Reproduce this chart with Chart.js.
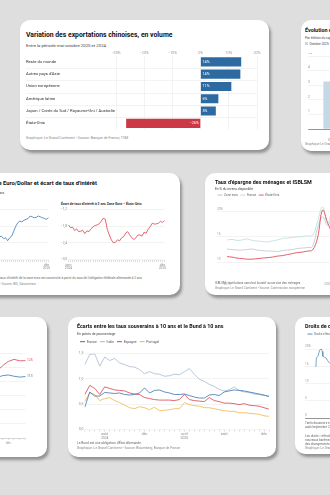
<!DOCTYPE html>
<html lang="fr">
<head>
<meta charset="utf-8">
<script src="https://cdn.jsdelivr.net/npm/chart.js@4.4.1/dist/chart.umd.min.js"></script>
<style>
html,body{margin:0;padding:0;}
body{width:330px;height:495px;overflow:hidden;background:#dedede;position:relative;font-family:Roboto,"Liberation Sans",sans-serif;color:#222;}
.card{position:absolute;background:#fff;border-radius:10px;box-shadow:2px 3px 3px rgba(0,0,0,.35);overflow:hidden;}
.t{position:absolute;font-weight:700;white-space:nowrap;color:#111;}
.s,.f{position:absolute;white-space:nowrap;}
.s{color:#444;}
.f{color:#8a8a8a;}
canvas{position:absolute;display:block;}
</style>
</head>
<body>

<div class="card" style="left:20px;top:20px;width:249px;height:130px">
  <div class="t" style="left:6px;top:11px;font-size:6.8px">Variation des exportations chinoises, en volume</div>
  <div class="s" style="left:6px;top:22.5px;font-size:4.3px">Entre la période mai-octobre 2025 et 2024.</div>
  <canvas id="exports" width="238" height="84" style="left:6px;top:28px"></canvas>
  <div class="f" style="left:6px;top:116px;font-size:3.6px">Graphique: Le Grand Continent • Source: Banque de France, TSM</div>
</div>

<div class="card" style="left:301px;top:20px;width:140px;height:131px">
  <div class="t" style="left:4px;top:7px;font-size:5.4px">Évolution des recettes douanières</div>
  <div class="s" style="left:4px;top:16px;font-size:3.3px">Par édition du rapport, en milliards de dollars</div>
  <div class="s" style="left:4px;top:22px;font-size:3.2px"><span style="display:inline-block;width:3px;height:3px;background:#c4d8e6;margin-right:1.5px"></span>Octobre 2025</div>
  <canvas id="edition" width="140" height="90" style="left:7px;top:33px"></canvas>
  <div class="f" style="left:4px;top:122px;font-size:3.2px">Graphique Le Grand Continent</div>
</div>

<div class="card" style="left:-70px;top:173px;width:250px;height:122px">
  <div class="t" style="left:73px;top:7px;font-size:5.8px"><span style="position:absolute;right:100%">Taux de change&nbsp;</span>Euro/Dollar et écart de taux d'intérêt</div>
  <div class="s" style="right:175px;top:17.5px;font-size:3.5px">Cours de l'euro en dollars.</div>
  <div class="t" style="left:131px;top:29px;font-size:3.4px;font-weight:600;color:#222">Écart de taux d'intérêt à 2 ans Zone Euro – États-Unis</div>
  <canvas id="eurusd" width="112" height="70" style="left:12px;top:32px"></canvas>
  <canvas id="rates" width="112" height="70" style="left:128px;top:32px"></canvas>
  <div class="f" style="right:38px;top:103px;font-size:3.2px;color:#666">Note : l'écart de taux d'intérêt de la zone euro est construite à partir du taux de l'obligation fédérale allemande à 2 ans</div>
  <div class="f" style="right:144px;top:109px;font-size:3.2px">Graphique : Le Grand Continent • Source: BIS, Datastream</div>
</div>

<div class="card" style="left:205px;top:173px;width:200px;height:122px">
  <div class="t" style="left:10px;top:5.5px;font-size:5.4px">Taux d'épargne des ménages et ISBLSM</div>
  <div class="s" style="left:10px;top:13.5px;font-size:3.3px">En % du revenu disponible</div>
  <canvas id="savings" width="190" height="97" style="left:10px;top:18px"></canvas>
  <div class="f" style="left:10px;top:107.5px;font-size:3.1px;color:#666">ISBLSM : institutions sans but lucratif au service des ménages</div>
  <div class="f" style="left:10px;top:113px;font-size:3.1px">Graphique: Le Grand Continent • Source: Commission européenne</div>
</div>

<div class="card" style="left:-200px;top:317px;width:247px;height:140px">
  <canvas id="index" width="240" height="120" style="left:0px;top:15px"></canvas>
</div>

<div class="card" style="left:68px;top:317px;width:208px;height:140px">
  <div class="t" style="left:9px;top:6px;font-size:5.4px">Écarts entre les taux souverains à 10 ans et le Bund à 10 ans</div>
  <div class="s" style="left:9px;top:15px;font-size:3.4px">En points de pourcentage</div>
  <canvas id="spreads" width="196" height="104" style="left:9px;top:20px"></canvas>
  <div class="f" style="left:9px;top:124px;font-size:3.3px;color:#666">Le Bund est une obligation d'État allemande.</div>
  <div class="f" style="left:9px;top:129px;font-size:3.3px">Graphique: Le Grand Continent • Source: Bloomberg, Banque de France</div>
</div>

<div class="card" style="left:295px;top:317px;width:150px;height:137px">
  <div class="t" style="left:10px;top:6px;font-size:5.4px">Droits de douane effectifs</div>
  <canvas id="tariffs" width="130" height="96" style="left:10px;top:13px"></canvas>
  <div class="f" style="left:10px;top:104px;font-size:3.1px;color:#666">Tarifs douaniers effectifs sur les importations,</div>
  <div class="f" style="left:10px;top:108px;font-size:3.1px;color:#666">août/septembre 2025</div>
  <div class="f" style="left:10px;top:117px;font-size:3.1px;color:#666">Les droits « effectifs » tiennent compte des</div>
  <div class="f" style="left:10px;top:121px;font-size:3.1px;color:#666">nouveaux barèmes et des exemptions,</div>
  <div class="f" style="left:10px;top:125px;font-size:3.1px;color:#666">des changements de flux commerciaux</div>
  <div class="f" style="left:10px;top:129px;font-size:3.1px">Graphique: Le Grand Continent</div>
</div>

<script>
// --- exports chinoises (mai-oct 2025 vs 2024)
var exportCats = ['Reste du monde', "Autres pays d'Asie", 'Union européenne', 'Amérique latine', 'Japon / Corée du Sud / Royaume-Uni / Australie', 'États-Unis'];
var exportChange = [14.4, 14.1, 10.9, 6.3, 5.4, -26.4];
var exportTicks = [-30, -20, -10, 0, 10, 20];

// --- recettes par édition
var editionCats = ['2025', '2026', '2027'];
var editionValues = [3.25, 3.9, 4.4];
var editionTicks = [0, 1, 2, 3, 4, 5];

// --- euro/dollar et écart de taux (points bimensuels janv 2024 - déc 2025)
var eurUsd = [1.09, 1.085, 1.08, 1.085, 1.08, 1.075, 1.07, 1.075, 1.08, 1.085, 1.08, 1.075, 1.08, 1.09, 1.085, 1.09, 1.10, 1.11, 1.115, 1.11, 1.09, 1.065, 1.055, 1.035, 1.04, 1.025, 1.03, 1.013, 1.03, 1.04, 1.07, 1.10, 1.12, 1.13, 1.125, 1.135, 1.14, 1.145, 1.16, 1.155, 1.15, 1.152, 1.16, 1.155, 1.15, 1.145, 1.14, 1.15];
var rateGap = [-1.76, -1.86, -1.84, -1.96, -1.90, -2.00, -1.98, -1.96, -2.07, -1.97, -2.00, -1.90, -1.83, -1.78, -1.76, -1.72, -1.63, -1.52, -1.55, -1.92, -2.12, -2.30, -2.40, -2.38, -2.29, -2.33, -2.22, -2.18, -2.05, -2.00, -2.12, -2.22, -2.28, -2.22, -2.12, -2.12, -2.16, -2.02, -2.06, -1.92, -1.82, -1.70, -1.73, -1.72, -1.70, -1.63, -1.67, -1.60];
var rateTicks = [-3.0, -2.4, -1.8, -1.2];
var fxTicks = [0.9, 1.0, 1.1, 1.2];
var fxTickNames = { 0: ['janv', '2024'], 46: ['déc', '2025'] };

// --- épargne des ménages (trimestriel, 2014T3 - 2023T4)
var savingQuarters = ['2014T3', '2014T4'];
[2015, 2016, 2017, 2018, 2019, 2020, 2021, 2022, 2023].forEach(function (y) {
    ['T1', 'T2', 'T3', 'T4'].forEach(function (q) { savingQuarters.push(y + q); });
});
var savingEuro = [null, null, 12.6, 12.5, 12.4, 12.4, 12.5, 12.6, 12.4, 12.3, 12.2, 12.2, 12.1, 12.3, 12.4, 12.5, 12.7, 12.8, 12.9, 13.1, 16.8, 19.0, 17.3, 18.8, 18.4, 17.6, 16.2, 15.6, 14.6, 14.2, 13.8, 14.0, 14.3, 14.6, 14.9, 15.2];
var savingFrance = [null, null, 14.4, 14.5, 14.3, 14.4, 14.6, 14.3, 14.2, 14.1, 14.0, 14.2, 14.4, 14.7, 14.8, 14.9, 15.0, 15.1, 15.2, 15.3, 18.0, 21.0, 17.8, 20.2, 19.4, 18.6, 17.5, 16.8, 16.2, 16.0, 16.4, 17.0, 17.5, 17.7, 17.9, 18.0];
var savingUS = [null, null, 11.1, 11.0, 10.8, 10.7, 10.6, 10.6, 10.7, 10.8, 10.9, 11.0, 11.2, 11.3, 11.5, 11.7, 11.9, 12.0, 12.2, 12.4, 14.8, 20.3, 17.8, 15.5, 13.0, 10.9, 9.6, 9.0, 8.9, 9.2, 9.6, 10.0, 10.3, 10.5, 10.6, 10.7];
var savingTicks = [10, 15, 20];
var savingTickNames = { '2015T1': '2015', '2020T1': '2020' };

// --- indice (carte coupée à gauche)
var indexRed = [118, 120, 119, 121, 122, 121, 123, 122, 124, 123, 125, 124, 126, 125, 124, 126, 127, 125, 124, 126, 125, 127, 126, 125, 124, 126, 124, 127, 125.5, 124, 122.6, 121, 124, 119.7, 116.9, 121, 124, 125.5, 124.5, 124.6];
var indexBlue = [109, 110, 109, 111, 112, 111, 112, 111, 113, 112, 114, 113, 115, 114, 113, 115, 116, 114, 113, 115, 114, 115, 114, 113, 112, 114, 113, 114, 115.5, 112.6, 113, 112, 110.8, 108, 112.6, 114, 114.5, 113.6, 113, 113.4];
var indexTicks = [70, 80, 90, 100, 110, 120, 130];
var indexTickNames = { 36: 'déc' };

// --- écarts de taux souverains vs Bund (points bimensuels juin 2024 - déc 2025)
var spreadFrance = [0.44, 0.74, 0.66, 0.66, 0.73, 0.72, 0.71, 0.72, 0.69, 0.68, 0.69, 0.72, 0.82, 0.72, 0.77, 0.78, 0.74, 0.72, 0.69, 0.69, 0.70, 0.67, 0.64, 0.62, 0.62, 0.68, 0.69, 0.67, 0.74, 0.76, 0.78, 0.77, 0.76, 0.74, 0.72, 0.70, 0.68, 0.65];
var spreadItaly = [1.28, 1.48, 1.49, 1.25, 1.43, 1.36, 1.40, 1.31, 1.28, 1.24, 1.23, 1.18, 1.10, 1.14, 1.10, 1.09, 1.05, 1.06, 1.09, 1.08, 1.14, 1.20, 1.09, 0.99, 0.95, 0.89, 0.85, 0.79, 0.76, 0.78, 0.84, 0.77, 0.74, 0.73, 0.70, 0.69, 0.67, 0.66];
var spreadSpain = [0.69, 0.87, 0.81, 0.69, 0.84, 0.81, 0.78, 0.77, 0.76, 0.72, 0.70, 0.69, 0.63, 0.61, 0.59, 0.58, 0.58, 0.58, 0.57, 0.59, 0.69, 0.59, 0.57, 0.56, 0.55, 0.63, 0.57, 0.55, 0.52, 0.52, 0.51, 0.49, 0.51, 0.48, 0.47, 0.46, 0.43, 0.40];
var spreadPortugal = [0.55, 0.72, 0.69, 0.57, 0.61, 0.63, 0.57, 0.53, 0.48, 0.43, 0.41, 0.45, 0.43, 0.39, 0.44, 0.37, 0.38, 0.39, 0.41, 0.41, 0.53, 0.49, 0.47, 0.46, 0.43, 0.43, 0.41, 0.39, 0.37, 0.36, 0.36, 0.33, 0.33, 0.32, 0.31, 0.30, 0.27, 0.26];
var spreadTicks = [0, 0.5, 1.0, 1.5];
var spreadTickNames = { 4: ['août', '2024'], 12: 'déc', 20: ['avril', '2025'], 28: 'août', 36: 'déc' };

// --- droits de douane effectifs (semaines)
var tariffWeeks = [6.7, 7, 8, 9, 10, 10.6, 11, 12, 13, 14, 15, 16, 18, 20, 22, 24, 26, 28, 30];
var tariffValues = [14.8, 17.5, 17.9, 19.7, 20, 19.3, 17.9, 17.6, 17.4, 16.6, 16, 15.8, 15.5, 15.6, 15.3, 15.2, 15.0, 15.1, 14.9];
var tariffTicks = [0, 5, 10, 15, 20];

Chart.defaults.font.family = 'Roboto, "Liberation Sans", sans-serif';
Chart.defaults.animation = false;
Chart.defaults.responsive = false;
Chart.defaults.plugins.legend.display = false;
Chart.defaults.plugins.tooltip.enabled = false;
Chart.defaults.elements.point.radius = 0;
Chart.defaults.elements.line.borderWidth = 0.8;

function halfMonths(year, month, count) {
    var out = [];
    for (var i = 0; i < count; i++) {
        var m = month + Math.floor(i / 2);
        var y = year + Math.floor((m - 1) / 12);
        m = ((m - 1) % 12) + 1;
        out.push(y + '-' + (m < 10 ? '0' : '') + m + (i % 2 ? '-15' : '-01'));
    }
    return out;
}
function fixedTicks(list) {
    return function (scale) { scale.ticks = list.map(function (v) { return { value: v }; }); };
}
function frNum(v, d) { return (v < 0 ? '−' : '') + Math.abs(v).toFixed(d).replace('.', ','); }

var grey = '#ebebeb';

// ---------- chart 1
var rowLines = {
    id: 'rowLines',
    beforeDatasetsDraw: function (chart) {
        var y = chart.scales.y, ctx = chart.ctx;
        ctx.save();
        ctx.strokeStyle = grey;
        ctx.lineWidth = 0.6;
        for (var i = 1; i < exportCats.length; i++) {
            var py = Math.round((y.getPixelForValue(i - 1) + y.getPixelForValue(i)) / 2) + 0.5;
            ctx.beginPath();
            ctx.moveTo(0, py);
            ctx.lineTo(chart.chartArea.right, py);
            ctx.stroke();
        }
        ctx.restore();
    }
};
var barLabels = {
    id: 'barLabels',
    afterDatasetsDraw: function (chart) {
        var ctx = chart.ctx;
        ctx.save();
        ctx.fillStyle = '#fff';
        ctx.font = '3.8px Roboto';
        ctx.textBaseline = 'middle';
        chart.getDatasetMeta(0).data.forEach(function (bar, i) {
            var v = exportChange[i];
            var txt = (v < 0 ? '−' : '') + Math.abs(Math.round(v)) + '%';
            ctx.textAlign = v < 0 ? 'right' : 'left';
            ctx.fillText(txt, bar.base + (v < 0 ? -1.5 : 1.5), bar.y);
        });
        ctx.restore();
    }
};
new Chart(document.getElementById('exports'), {
    type: 'bar',
    data: {
        labels: exportCats,
        datasets: [{
            data: exportChange,
            backgroundColor: exportChange.map(function (v) { return v < 0 ? '#cc3845' : '#2c6aa1'; }),
            barPercentage: 0.74,
            categoryPercentage: 1
        }]
    },
    options: {
        indexAxis: 'y',
        layout: { padding: { right: 7, bottom: 0.7 } },
        scales: {
            x: {
                position: 'top', min: -30, max: 20,
                afterBuildTicks: fixedTicks(exportTicks),
                grid: { color: grey, drawTicks: false, lineWidth: 0.6 },
                border: { display: false },
                ticks: { padding: 0.5, color: '#999', font: { size: 3.8 }, callback: function (v) { return (v < 0 ? '−' : '') + Math.abs(v) + '%'; } },
                afterFit: function (s) { s.height = 7.7; }
            },
            y: {
                grid: { display: false },
                border: { display: false },
                ticks: { crossAlign: 'far', padding: 0, color: '#333', font: { size: 4.2 } },
                afterFit: function (s) { s.width = 90; }
            }
        }
    },
    plugins: [rowLines, barLabels]
});

// ---------- chart 2
new Chart(document.getElementById('edition'), {
    type: 'bar',
    data: { labels: editionCats, datasets: [{ data: editionValues, backgroundColor: '#c4d8e6', barPercentage: 0.34, categoryPercentage: 1 }] },
    options: {
        layout: { padding: { top: 3, right: 0 } },
        scales: {
            x: { grid: { display: false }, border: { color: '#555', width: 0.6 }, ticks: { font: { size: 3.2 }, color: '#888', padding: 1 } },
            y: {
                min: 0, max: 5,
                afterBuildTicks: fixedTicks(editionTicks),
                grid: { color: grey, drawTicks: false, lineWidth: 0.6 },
                border: { display: false },
                ticks: { mirror: true, labelOffset: -3, padding: 0, color: '#888', font: { size: 3.2 }, callback: function (v) { return v === 0 ? '' : (v === 5 ? '5%' : v); } }
            }
        }
    }
});

// ---------- chart 3 (deux panneaux)
var gapDates = halfMonths(2024, 1, 48);
function panelOptions(ticks, tickFmt, yMin, yMax) {
    return {
        layout: { padding: { top: 4.3, right: 5.5 } },
        scales: {
            x: {
                grid: { drawOnChartArea: false, tickLength: 2.5, color: '#bbb', lineWidth: 0.5 },
                border: { display: false },
                ticks: {
                    autoSkip: false, maxRotation: 0, padding: 1, color: '#888', font: { size: 3.3, lineHeight: 1.1 },
                    callback: function (v, i) { return fxTickNames[i] || ''; }
                },
                afterFit: function (s) { s.height = 15.4; }
            },
            y: {
                min: yMin, max: yMax,
                afterBuildTicks: fixedTicks(ticks),
                grid: { color: grey, drawTicks: false, lineWidth: 0.6 },
                border: { display: false },
                ticks: { padding: 1.5, color: '#888', font: { size: 3.3 }, callback: tickFmt },
                afterFit: function (s) { s.width = 10.5; }
            }
        }
    };
}
new Chart(document.getElementById('eurusd'), {
    type: 'line',
    data: { labels: gapDates, datasets: [{ data: eurUsd, borderColor: '#3d78b4' }] },
    options: panelOptions(fxTicks, function (v) { return frNum(v, 2); }, 0.9, 1.2)
});
new Chart(document.getElementById('rates'), {
    type: 'line',
    data: { labels: gapDates, datasets: [{ data: rateGap, borderColor: '#d8424f' }] },
    options: panelOptions(rateTicks, function (v) { return frNum(v, 1); }, -3.0, -1.2)
});

// ---------- chart 4
new Chart(document.getElementById('savings'), {
    type: 'line',
    data: {
        labels: savingQuarters,
        datasets: [
            { label: 'Zone euro', data: savingEuro, borderColor: '#b7c6d6', order: 2, tension: 0.4 },
            { label: 'France', data: savingFrance, borderColor: '#b9ddd9', order: 1, tension: 0.4 },
            { label: 'États-Unis', data: savingUS, borderColor: '#e04d58', borderWidth: 0.9, order: 0, tension: 0.4 }
        ]
    },
    options: {
        layout: { padding: { right: 0 } },
        plugins: {
            legend: {
                display: true, align: 'start',
                labels: {
                    usePointStyle: true, pointStyle: 'line', pointStyleWidth: 5, boxHeight: 3, padding: 2.5,
                    font: { size: 3.1 }, color: '#666',
                    sort: function (a, b) { return a.datasetIndex - b.datasetIndex; }
                }
            }
        },
        scales: {
            x: {
                grid: { display: false },
                border: { display: false },
                ticks: { autoSkip: false, maxRotation: 0, padding: 2, color: '#999', font: { size: 3.1 }, callback: function (v, i) { return savingTickNames[savingQuarters[i]] || ''; } }
            },
            y: {
                min: 8, max: 21,
                afterBuildTicks: fixedTicks(savingTicks),
                grid: { color: grey, drawTicks: false, lineWidth: 0.6 },
                border: { display: false },
                ticks: { mirror: true, labelOffset: -2.5, padding: 0, color: '#999', font: { size: 3.1 }, callback: function (v) { return v === 20 ? '20%' : v; } }
            }
        }
    }
});

// ---------- chart 5 (coupé)
var endLabels = {
    id: 'endLabels',
    afterDatasetsDraw: function (chart) {
        var ctx = chart.ctx;
        ctx.save();
        ctx.font = '3.3px Roboto';
        ctx.textBaseline = 'middle';
        chart.data.datasets.forEach(function (ds, i) {
            var pts = chart.getDatasetMeta(i).data, last = pts[pts.length - 1];
            ctx.fillStyle = ds.borderColor;
            ctx.fillText(Math.round(ds.data[ds.data.length - 1]), last.x + 1.5, last.y);
        });
        ctx.restore();
    }
};
new Chart(document.getElementById('index'), {
    type: 'line',
    data: {
        labels: indexRed.map(function (v, i) { return i; }),
        datasets: [
            { data: indexRed, borderColor: '#d8424f' },
            { data: indexBlue, borderColor: '#3d78b4' }
        ]
    },
    options: {
        layout: { padding: { right: 14.5, top: 21 } },
        scales: {
            x: {
                grid: { drawOnChartArea: false, tickLength: 2, color: '#bbb', lineWidth: 0.5 },
                border: { color: '#bbb', width: 0.5 },
                ticks: { autoSkip: false, maxRotation: 0, padding: 1, color: '#999', font: { size: 3.2 }, callback: function (v, i) { return indexTickNames[i] || ''; } },
                afterFit: function (s) { s.height = 14; }
            },
            y: {
                min: 70, max: 130,
                afterBuildTicks: fixedTicks(indexTicks),
                grid: { color: grey, drawTicks: false, lineWidth: 0.6 },
                border: { display: false },
                ticks: { display: false }
            }
        }
    },
    plugins: [endLabels]
});

// ---------- chart 6
var spreadDates = halfMonths(2024, 6, 38);
new Chart(document.getElementById('spreads'), {
    type: 'line',
    data: {
        labels: spreadDates,
        datasets: [
            { label: 'France', data: spreadFrance, borderColor: '#3b74ad' },
            { label: 'Italie', data: spreadItaly, borderColor: '#a8bacb' },
            { label: 'Espagne', data: spreadSpain, borderColor: '#d9414d' },
            { label: 'Portugal', data: spreadPortugal, borderColor: '#f1b649' }
        ]
    },
    options: {
        layout: { padding: { right: 4 } },
        plugins: {
            legend: {
                display: true, align: 'start',
                labels: { usePointStyle: true, pointStyle: 'line', pointStyleWidth: 5, boxHeight: 3, padding: 3, font: { size: 3.4 }, color: '#555' }
            }
        },
        scales: {
            x: {
                grid: { drawOnChartArea: false, tickLength: 2, color: '#bbb', lineWidth: 0.5 },
                border: { display: false },
                ticks: { autoSkip: false, maxRotation: 0, padding: 1, color: '#888', font: { size: 3.4, lineHeight: 1.1 }, callback: function (v, i) { return spreadTickNames[i] || ''; } }
            },
            y: {
                min: 0, max: 1.5,
                afterBuildTicks: fixedTicks(spreadTicks),
                grid: { color: grey, drawTicks: false, lineWidth: 0.6 },
                border: { display: false },
                ticks: { padding: 1.5, color: '#888', font: { size: 3.4 }, callback: function (v) { return frNum(v, 1); } },
                afterFit: function (s) { s.width = 7.8; }
            }
        }
    }
});

// ---------- chart 7
new Chart(document.getElementById('tariffs'), {
    type: 'line',
    data: {
        datasets: [{
            label: 'Droits effectifs',
            data: tariffWeeks.map(function (w, i) { return { x: w, y: tariffValues[i] }; }),
            borderColor: '#5b8fc4'
        }]
    },
    options: {
        plugins: {
            legend: {
                display: true, align: 'start',
                labels: { usePointStyle: true, pointStyle: 'line', pointStyleWidth: 5, boxHeight: 3, padding: 2.5, font: { size: 3.1 }, color: '#666' }
            }
        },
        scales: {
            x: {
                type: 'linear', min: 0, max: 80,
                grid: { display: false },
                border: { color: '#555', width: 0.6 },
                ticks: { display: false }
            },
            y: {
                min: 0, max: 21,
                afterBuildTicks: fixedTicks(tariffTicks),
                grid: { color: grey, drawTicks: false, lineWidth: 0.6 },
                border: { display: false },
                ticks: { mirror: true, labelOffset: -2.5, padding: 0, color: '#999', font: { size: 3.1 }, callback: function (v) { return v === 20 ? '20%' : v; } }
            }
        }
    }
});
</script>
</body>
</html>
